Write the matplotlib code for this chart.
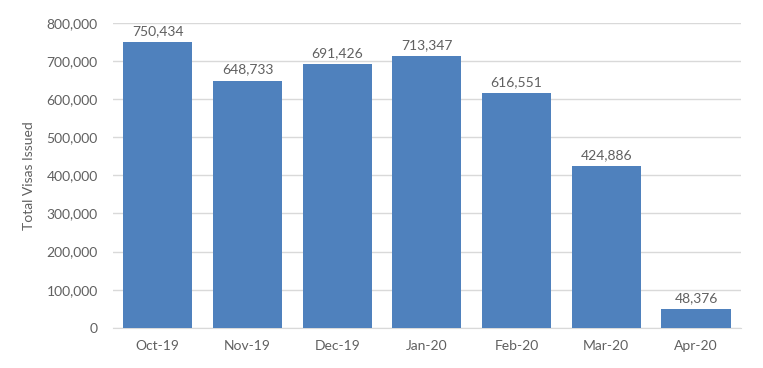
import matplotlib
matplotlib.use("Agg")
import matplotlib.pyplot as plt
from matplotlib.ticker import FuncFormatter

months = ["Oct-19", "Nov-19", "Dec-19", "Jan-20", "Feb-20", "Mar-20", "Apr-20"]
visas = [750434, 648733, 691426, 713347, 616551, 424886, 48376]

plt.rcParams["font.family"] = ["Lato", "DejaVu Sans"]
txt = "#606060"

fig = plt.figure(figsize=(7.63, 3.68), dpi=100)
ax = fig.add_axes([0.148, 0.109, 0.823, 0.829])
x = range(len(months))
ax.bar(x, visas, width=0.77, color="#4f81bd", zorder=3)
for xi, v in zip(x, visas):
    ax.text(xi, v + 13000, f"{v:,}", ha="center", va="bottom", fontsize=10, color=txt)

ax.set_ylim(0, 800000)
ax.set_xlim(-0.5, len(months) - 0.5)
ax.set_yticks(range(0, 800001, 100000))
ax.yaxis.set_major_formatter(FuncFormatter(lambda v, p: f"{int(v):,}"))
ax.set_xticks(list(x))
ax.set_xticklabels(months)
ax.grid(axis="y", color="#d9d9d9", lw=1, zorder=0)
for s in ["top", "right", "left"]:
    ax.spines[s].set_visible(False)
ax.spines["bottom"].set_color("#d9d9d9")
ax.tick_params(length=0, labelsize=10, colors=txt)
ax.tick_params(axis="y", pad=11)
ax.tick_params(axis="x", pad=9)
ax.set_ylabel("Total Visas Issued", fontsize=10, color=txt, labelpad=8)

fig.savefig("out.png", dpi=100)
